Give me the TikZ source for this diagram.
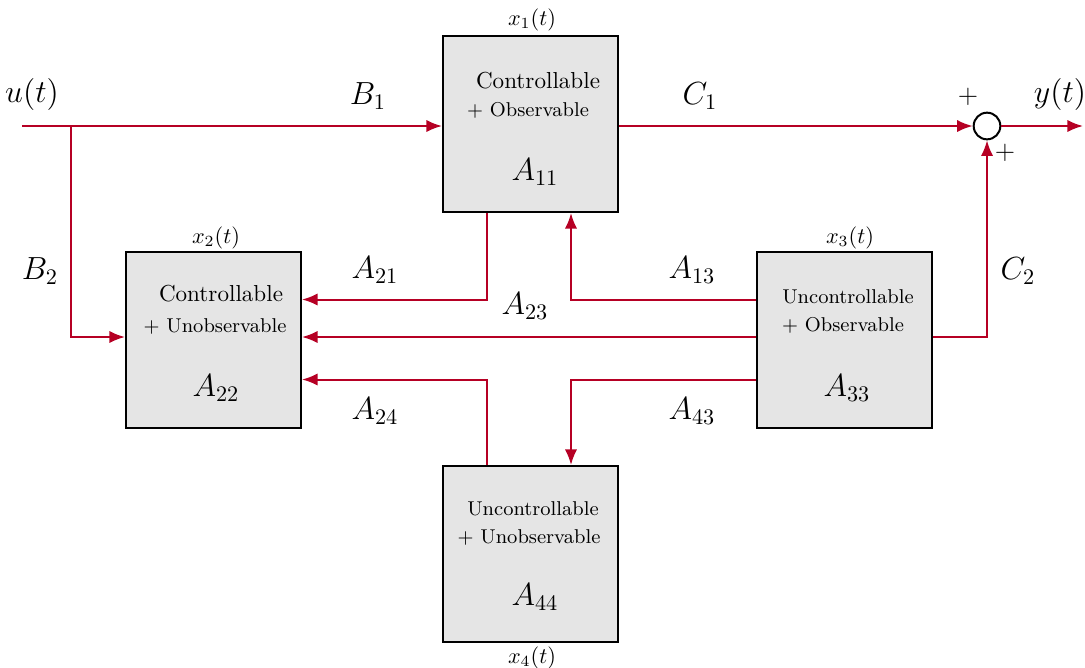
\documentclass[tikz,border=0pt]{standalone}
\usetikzlibrary{arrows.meta,calc}
\definecolor{lred}{RGB}{182,0,36}
\begin{document}
\begin{tikzpicture}[x=0.45pt,y=-0.45pt,
  blk/.style={draw=black,fill=black!10,line width=0.9pt,minimum width=78.75pt,minimum height=79.2pt,inner sep=0pt},
  arr/.style={draw=lred,line width=0.9pt,-{Latex[length=7pt,width=5.5pt]}},
  sumc/.style={draw=black,circle,line width=0.9pt,minimum size=12pt,inner sep=0pt},
  lbl/.style={inner sep=0pt,font=\fontsize{13.6}{16}\selectfont},
  big/.style={inner sep=0pt,font=\Large},
  nt/.style={inner sep=0pt,font=\fontsize{10.4}{12}\selectfont},
  st/.style={inner sep=0pt,font=\fontsize{9.6}{11}\selectfont},
  tl/.style={inner sep=0pt,font=\small}]
\useasboundingbox (0,0) rectangle (1085,667);
% blocks
\node[blk] (b1) at (530.5,124) {};
\node[blk] (b2) at (213.5,339.5) {};
\node[blk] (b3) at (844,339.5) {};
\node[blk] (b4) at (530.5,554) {};
\node[sumc] (sum) at (987,126) {};
% block texts
\node[nt] (t1a) at (538,81) {Controllable};
\node[tl] (t1b) at (528,110) {+ Observable};
\node[big] (t1c) at (535,172) {$A_{11}$};
\node[nt] (t2a) at (221,294) {Controllable};
\node[tl] (t2b) at (215,326) {+ Unobservable};
\node[big] (t2c) at (216,388) {$A_{22}$};
\node[tl] (t3a) at (848,297) {Uncontrollable};
\node[tl] (t3b) at (843,325) {+ Observable};
\node[big] (t3c) at (847,388) {$A_{33}$};
\node[tl] (t4a) at (533,509) {Uncontrollable};
\node[tl] (t4b) at (529,537) {+ Unobservable};
\node[big] (t4c) at (535,597) {$A_{44}$};
% state labels
\node[st] (x1) at (532,20) {$x_1(t)$};
\node[st] (x2) at (216,238) {$x_2(t)$};
\node[st] (x3) at (850,238) {$x_3(t)$};
\node[st] (x4) at (532,658) {$x_4(t)$};
% signal labels
\node[lbl] (lu) at (32,94) {$u(t)$};
\node[lbl] (lB1) at (368,96) {$B_1$};
\node[lbl] (lC1) at (700,96) {$C_1$};
\node[lbl] (ly) at (1060,94) {$y(t)$};
\node[lbl] (lB2) at (40,271) {$B_2$};
\node[lbl] (lC2) at (1018,271) {$C_2$};
\node[lbl] (lA21) at (375,270) {$A_{21}$};
\node[lbl] (lA13) at (692,270) {$A_{13}$};
\node[lbl] (lA23) at (525,306) {$A_{23}$};
\node[lbl] (lA24) at (375,411) {$A_{24}$};
\node[lbl] (lA43) at (692,411) {$A_{43}$};
\node[inner sep=0pt,font=\large] (p1) at (968,97) {$+$};
\node[inner sep=0pt,font=\large] (p2) at (1005,153) {$+$};
% connectors
\coordinate (uin) at (22,126);
\coordinate (br) at (71,126);
\coordinate (yout) at (1083,126);
\draw[arr] (uin) -- (uin -| b1.west);
\draw[arr] (br) |- ($(b2.west)+(0,-2.5)$);
\draw[arr] (b1.east |- sum) -- (sum.west);
\draw[arr] (sum.east) -- (yout);
\draw[arr] ($(b3.east)+(0,-2.5)$) -| (sum.south);
\draw[arr] ($(b1.south west)+(45,0)$) |- ($(b2.north east)+(0,49)$);
\draw[arr] ($(b3.north west)+(0,49)$) -| ($(b1.south west)+(129,0)$);
\draw[arr] ($(b3.west)+(0,-2.5)$) -- ($(b2.east)+(0,-2.5)$);
\draw[arr] ($(b3.south west)+(0,-49)$) -| ($(b4.north west)+(129,0)$);
\draw[arr] ($(b4.north west)+(45,0)$) |- ($(b2.south east)+(0,-49)$);
\end{tikzpicture}
\end{document}
